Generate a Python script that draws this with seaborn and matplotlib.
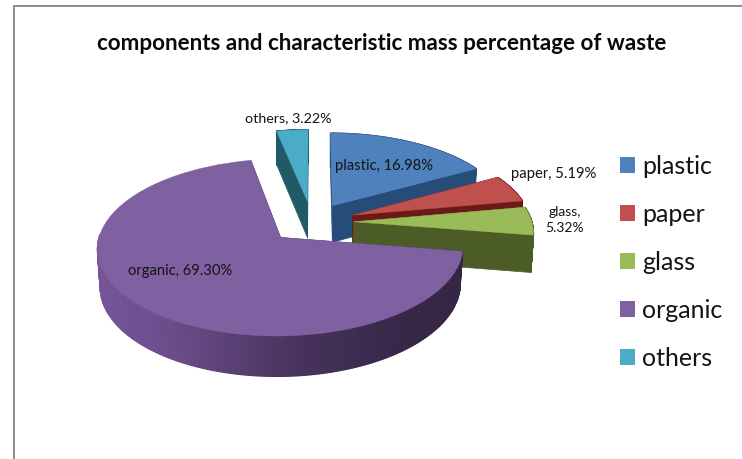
import numpy as np
import matplotlib
matplotlib.use("Agg")
import matplotlib.pyplot as plt
import matplotlib.transforms as mtrans
from matplotlib.patches import Polygon
import seaborn as sns

categories = ["plastic", "paper", "glass", "organic", "others"]
percentages = [16.98, 5.19, 5.32, 69.30, 3.22]
explode = [0.23, 0.245, 0.235, 0.25, 0.25]
top_colors = ["#4F81BD", "#C0504D", "#9BBB59", "#7F60A1", "#4BACC6"]
wall_colors = ["#264C78", "#6B1A18", "#4C5C26", "#4A3560", "#1F5A66"]
title_text = "components and characteristic mass percentage of waste"

sns.set_theme(style="white")
plt.rcParams["font.family"] = ["Lato", "DejaVu Sans"]

W, H = 742, 459
CX, CY, A, B, K = 312.0, 222.0, 178.0, 84.0, 0.11
DEPTH = 37.0
SHRINK = 0.985


def project(xy):
    xy = np.atleast_2d(xy)
    s = 1.0 / (1.0 + K * xy[:, 1])
    return np.column_stack([CX + A * xy[:, 0] * s, CY - B * xy[:, 1] * s])


def lower(pts, tip_x):
    out = pts.copy()
    out[:, 0] = tip_x + (out[:, 0] - tip_x) * SHRINK
    out[:, 1] = out[:, 1] + DEPTH + (out[:, 1] - CY) * 0.03
    return out


class Persp(mtrans.Transform):
    input_dims = 2
    output_dims = 2
    is_separable = False
    has_inverse = False

    def transform_non_affine(self, values):
        return project(values)


fig = plt.figure(figsize=(W / 100, H / 100), dpi=100)
ax = fig.add_axes([0, 0, 1, 1])
wedges, _ = ax.pie(percentages, explode=explode, startangle=90, counterclock=False,
                   colors=sns.color_palette(top_colors), radius=1.0)
ax.set_aspect("auto")
ax.set_xlim(0, W)
ax.set_ylim(H, 0)
ax.axis("off")
persp = Persp() + ax.transData


def shade(col, f):
    c = np.array(matplotlib.colors.to_rgb(col))
    return tuple(np.clip(c * f, 0, 1))


order = [4, 0, 1, 2, 3]
for z, i in enumerate(order):
    w = wedges[i]
    c0 = np.array(w.center)
    th = np.radians(np.linspace(w.theta1, w.theta2, 200))
    rim = project(c0 + np.column_stack([np.cos(th), np.sin(th)]))
    tip = project(c0)[0]
    base = 2 + z * 2
    low = lower(rim, tip[0])
    for edge in (rim[:1], rim[-1:]):
        wall = np.vstack([tip, edge, lower(edge, tip[0]), lower(tip[None, :], tip[0])])
        ax.add_patch(Polygon(wall, closed=True, fc=wall_colors[i], ec=wall_colors[i], lw=0.5, zorder=base))
    for j in range(len(th) - 1):
        if np.sin(th[j]) > 0.05 and i == 3:
            continue
        f = 1.0
        if i == 3:
            f = np.interp(rim[j, 0], [96, 170, 300, 400, 460], [1.6, 1.45, 0.95, 0.75, 0.72])
        col = shade(wall_colors[i], f)
        q = np.vstack([rim[j], rim[j + 1], low[j + 1], low[j]])
        ax.add_patch(Polygon(q, closed=True, fc=col, ec=col, lw=0.9, zorder=base + 0.5))
    w.set_transform(persp)
    w.set_clip_on(False)
    w.set_zorder(base + 1)
    w.set_edgecolor(top_colors[i])
    w.set_linewidth(0.3)

ax.plot([14, 14, W], [H, 5.5, 5.5], color="#8C8C8C", lw=1.4, zorder=1, solid_joinstyle="miter")

ax.text(381.5, 43, title_text, ha="center", va="center", fontsize=16.1, fontweight="bold",
        color="#0A0A0A", zorder=30)

label_color = "#141414"
annot = [
    (384, 166, f"{categories[0]}, {percentages[0]:.2f}%", 10.6),
    (554, 174, f"{categories[1]}, {percentages[1]:.2f}%", 10.7),
    (565, 220, f"{categories[2]},\n{percentages[2]:.2f}%", 10.0),
    (180, 271, f"{categories[3]}, {percentages[3]:.2f}%", 10.6),
    (288, 118, f"{categories[4]}, {percentages[4]:.2f}%", 10.3),
]
for x, y, s, fs in annot:
    ax.text(x, y, s, ha="center", va="center", fontsize=fs, color=label_color, zorder=30, linespacing=1.5)

leg = ax.legend(wedges, categories, loc="upper left", bbox_to_anchor=(612 / W, 1 - 147 / H),
                bbox_transform=fig.transFigure, frameon=False, fontsize=18,
                handlelength=0.6, handleheight=0.6, handletextpad=0.3, labelspacing=1.0,
                labelcolor="#141414", borderpad=0.3, borderaxespad=0)
leg.set_zorder(30)
for h in leg.get_patches():
    h.set_linewidth(0)

fig.savefig("out.png", dpi=100, facecolor="white")
